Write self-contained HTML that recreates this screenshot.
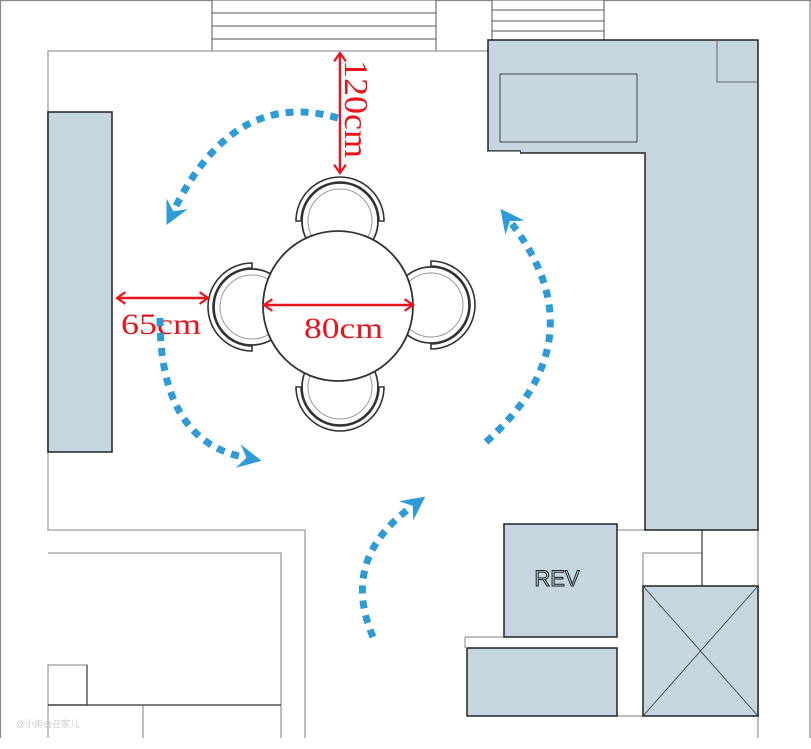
<!DOCTYPE html>
<html><head><meta charset="utf-8"><style>
html,body{margin:0;padding:0;background:#fff;}
svg{display:block;}
.red{font-family:"Liberation Serif",serif;fill:#e8141b;}
</style></head><body>
<svg width="811" height="749" viewBox="0 0 811 749" xmlns="http://www.w3.org/2000/svg">
<defs>
<marker id="ah" viewBox="0 0 10 10" refX="2" refY="5" markerWidth="3.4" markerHeight="3.4" orient="auto" markerUnits="strokeWidth">
<polygon points="0,0 10,5 0,10 3.5,5" fill="#2e9ad6"/>
</marker>
<marker id="ra" viewBox="0 0 10 10" refX="9" refY="5" markerWidth="14" markerHeight="14" orient="auto-start-reverse" markerUnits="userSpaceOnUse">
<polyline points="3,0.8 9,5 3,9.2" fill="none" stroke="#e8141b" stroke-width="1.6"/>
</marker>
<g id="chair">
<circle cx="0" cy="0" r="38" fill="#fff" stroke="#333" stroke-width="1.8"/>
<circle cx="0" cy="0" r="32" fill="#fff" stroke="#999" stroke-width="1"/>
<path d="M-44,0 A44,44 0 0 1 44,0 L39,0 A39,39 0 0 0 -39,0 Z" fill="#fff" stroke="#333" stroke-width="1.6"/>
</g>
</defs>
<rect width="811" height="749" fill="#fff"/>
<g stroke="#888" stroke-width="1.2" fill="none">
<line x1="0.5" y1="0" x2="0.5" y2="738"/>
<line x1="0" y1="0.5" x2="811" y2="0.5"/>
<line x1="810" y1="0" x2="810" y2="738"/>
</g>
<g stroke="#555" stroke-width="1" fill="#fff">
<rect x="212" y="0" width="224" height="51"/>
<line x1="212" y1="13" x2="436" y2="13"/>
<line x1="212" y1="26" x2="436" y2="26"/>
<line x1="212" y1="39" x2="436" y2="39"/>
<rect x="492" y="0" width="112" height="40"/>
<line x1="492" y1="10" x2="604" y2="10"/>
<line x1="492" y1="21" x2="604" y2="21"/>
<line x1="492" y1="31" x2="604" y2="31"/>
</g>
<g stroke="#aaa" stroke-width="1.5" fill="none">
<polyline points="488,51 48,51 48,530 305,530 305,738"/>
<polyline points="48,553 281,553 281,738"/>
<rect x="48" y="665" width="39" height="40"/>
<line x1="143" y1="705" x2="143" y2="738"/>
<line x1="48" y1="705" x2="48" y2="738"/>
<line x1="617" y1="530" x2="645" y2="530"/>
<polyline points="643,586 643,553 702,553"/>
<line x1="758" y1="530" x2="758" y2="738"/>
<line x1="465" y1="637" x2="504" y2="637"/>
<line x1="465" y1="637" x2="465" y2="648"/>
<line x1="617" y1="716" x2="643" y2="716"/>
</g>
<line x1="48" y1="705" x2="281" y2="705" stroke="#333" stroke-width="1.3"/>
<line x1="87" y1="665" x2="87" y2="705" stroke="#333" stroke-width="1"/>
<line x1="702" y1="530" x2="702" y2="586" stroke="#333" stroke-width="1.2"/>
<rect x="48" y="112" width="64" height="340" fill="#c5d6e0" stroke="#222" stroke-width="1.5"/>
<path d="M488,40 L758,40 L758,530 L645,530 L645,153 L520,153 L520,151 L488,151 Z" fill="#c5d6e0" stroke="#222" stroke-width="1.5"/>
<line x1="488" y1="153" x2="520" y2="153" stroke="#fff" stroke-width="3"/>
<rect x="500" y="74" width="137" height="68" fill="#c5d6e0" stroke="#444" stroke-width="1"/>
<polyline points="717,40 717,82 758,82" fill="none" stroke="#666" stroke-width="1"/>
<rect x="504" y="524" width="113" height="113" fill="#c5d6e0" stroke="#222" stroke-width="1.5"/>
<text x="557" y="586" text-anchor="middle" font-family="Liberation Sans,sans-serif" font-size="22" fill="#c5d6e0" stroke="#222" stroke-width="1">REV</text>
<rect x="467" y="648" width="150" height="68" fill="#c5d6e0" stroke="#222" stroke-width="1.5"/>
<rect x="643" y="586" width="115" height="130" fill="#c5d6e0" stroke="#222" stroke-width="1.5"/>
<line x1="643" y1="586" x2="758" y2="716" stroke="#333" stroke-width="0.8"/>
<line x1="758" y1="586" x2="643" y2="716" stroke="#333" stroke-width="0.8"/>
<use href="#chair" transform="translate(340,221)"/>
<use href="#chair" transform="translate(340,387) rotate(180)"/>
<use href="#chair" transform="translate(252,307) rotate(-90)"/>
<use href="#chair" transform="translate(431,305) rotate(90)"/>
<circle cx="338" cy="306" r="75" fill="#fff" stroke="#333" stroke-width="1.8"/>
<g stroke="#e8141b" stroke-width="2.4" fill="none">
<line x1="340" y1="53" x2="340" y2="173" marker-start="url(#ra)" marker-end="url(#ra)"/>
<line x1="117" y1="298" x2="208" y2="298" marker-start="url(#ra)" marker-end="url(#ra)"/>
<line x1="264" y1="305" x2="413" y2="305" marker-start="url(#ra)" marker-end="url(#ra)"/>
</g>
<text class="red" font-size="34" transform="translate(345,60) rotate(90)" textLength="98" lengthAdjust="spacingAndGlyphs">120cm</text>
<text class="red" font-size="30" x="121" y="334" textLength="80" lengthAdjust="spacingAndGlyphs">65cm</text>
<text class="red" font-size="30" x="304" y="338" textLength="79" lengthAdjust="spacingAndGlyphs">80cm</text>
<g stroke="#2e9ad6" stroke-width="7" fill="none" stroke-dasharray="8 7">
<path d="M338,118 Q235,88 175,208" marker-end="url(#ah)"/>
<path d="M160,318 Q160,440 243,457" marker-end="url(#ah)"/>
<path d="M486,442 Q600,340 512,224" marker-end="url(#ah)"/>
<path d="M373,637 Q340,560 410,508" marker-end="url(#ah)"/>
</g>
<text x="16" y="727" font-family="Liberation Sans,Noto Sans CJK SC,sans-serif" font-size="9" fill="#ccc">@小雨@在家儿</text>
</svg>
</body></html>
